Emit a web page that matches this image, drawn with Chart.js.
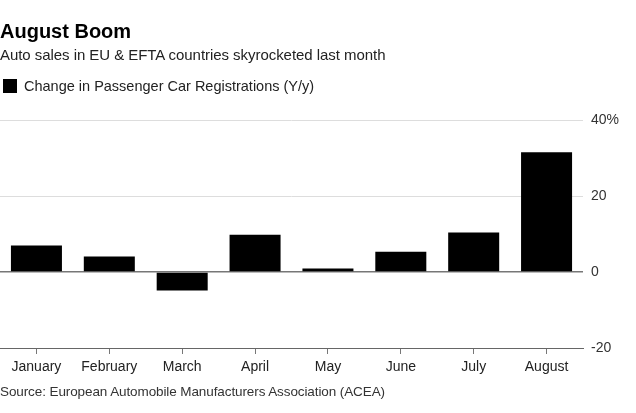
<!DOCTYPE html>
<html>
<head>
<meta charset="utf-8">
<script src="https://cdn.jsdelivr.net/npm/chart.js@4"></script>
<style>
  html, body { margin:0; padding:0; background:#fff; }
  body { width:636px; height:413px; position:relative; overflow:hidden; font-family:"Liberation Sans", Arial, sans-serif; }
  #wrap { position:absolute; left:0; top:0; width:636px; height:413px; }
  .t { position:absolute; white-space:nowrap; }
  #title { left:0; top:20px; font-size:20px; font-weight:bold; color:#000; letter-spacing:0px; }
  #sub { left:0; top:46px; font-size:15px; color:#222; letter-spacing:-0.05px; }
  #leg { left:3px; top:78px; font-size:14.5px; color:#222; letter-spacing:0px; }
  #leg span.box { display:inline-block; width:14px; height:14px; background:#000; vertical-align:-2px; margin-right:7px; }
  #src { left:0; top:384px; font-size:13.5px; color:#333; letter-spacing:-0.1px; }
</style>
</head>
<body>
<div id="wrap"><canvas id="c" width="636" height="413"></canvas></div>
<div class="t" id="title">August Boom</div>
<div class="t" id="sub">Auto sales in EU &amp; EFTA countries skyrocketed last month</div>
<div class="t" id="leg"><span class="box"></span>Change in Passenger Car Registrations (Y/y)</div>
<div class="t" id="src">Source: European Automobile Manufacturers Association (ACEA)</div>
<script>
const categories = ["January","February","March","April","May","June","July","August"];
const registrationsChange = [7.0, 4.1, -4.9, 9.8, 0.9, 5.3, 10.4, 31.5];
const yTicks = [-20, 0, 20, 40];
const seriesLabel = "Change in Passenger Car Registrations (Y/y)";

new Chart(document.getElementById('c'), {
  type: 'bar',
  data: {
    labels: categories,
    datasets: [{
      label: seriesLabel,
      data: registrationsChange,
      backgroundColor: '#000',
      borderWidth: 0,
      categoryPercentage: 1.0,
      barPercentage: 0.7
    }]
  },
  options: {
    responsive: false,
    animation: false,
    devicePixelRatio: 1,
    layout: { padding: { left: 0, right: 0, top: 120, bottom: 25 } },
    plugins: { legend: { display: false }, tooltip: { enabled: false }, title: { display: false } },
    scales: {
      x: {
        grid: { drawOnChartArea: false, drawTicks: true, tickLength: 6, offset: false, color: '#777' },
        border: { display: true, color: '#666', width: 1 },
        ticks: { color: '#222', font: { family: '"Liberation Sans", Arial, sans-serif', size: 14 }, padding: 5, maxRotation: 0, autoSkip: false },
        afterFit: s => { s.height = 40; }
      },
      y: {
        position: 'right',
        min: -20, max: 40,
        afterBuildTicks: s => { s.ticks = yTicks.map(v => ({ value: v })); },
        grid: {
          drawTicks: false,
          color: ctx => (ctx.tick && ctx.tick.value === 0) ? '#777' : (ctx.tick && ctx.tick.value === -20 ? 'rgba(0,0,0,0)' : '#ddd'),
          lineWidth: ctx => (ctx.tick && ctx.tick.value === 0) ? 1.5 : 1
        },
        border: { display: false },
        ticks: {
          color: '#333',
          font: { family: '"Liberation Sans", Arial, sans-serif', size: 14 },
          padding: 8,
          callback: v => v === 40 ? v + '%' : String(v)
        },
        afterFit: s => { s.width = 53; }
      }
    }
  }
});
</script>
</body>
</html>
